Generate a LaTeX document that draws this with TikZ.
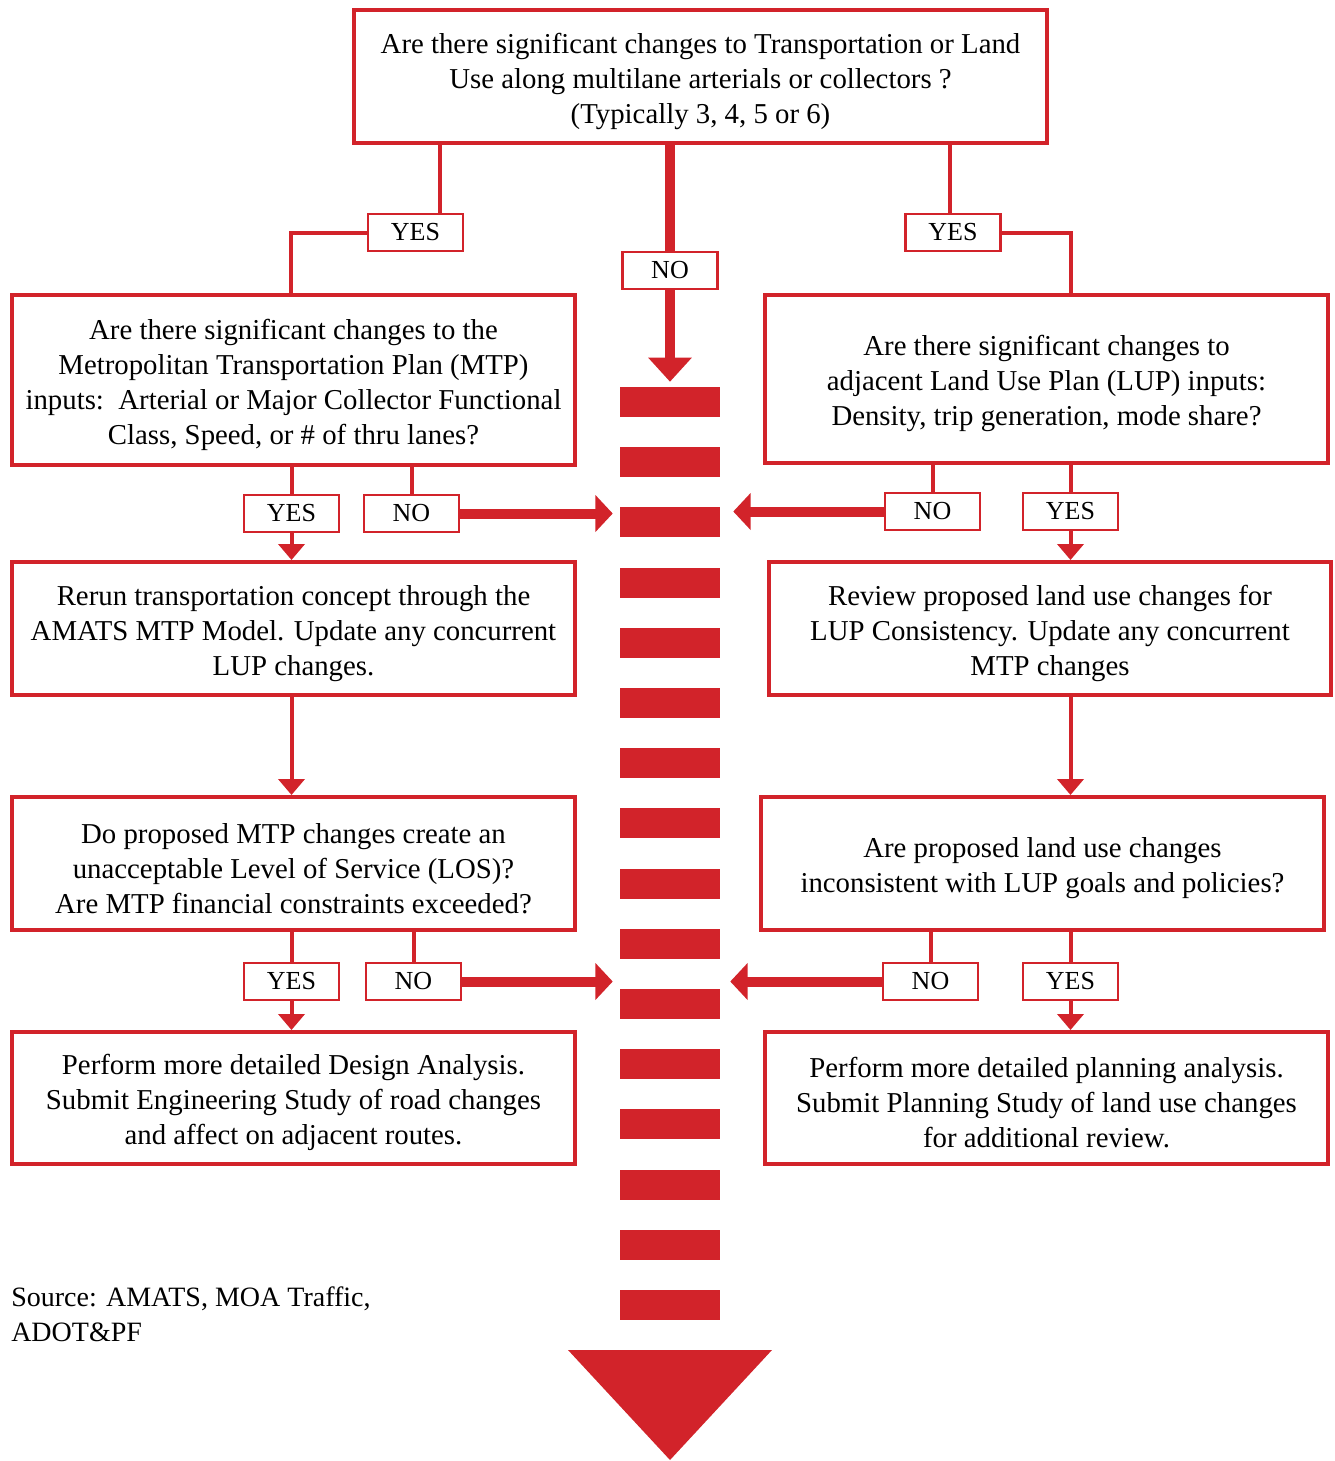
\documentclass[tikz,border=0pt]{standalone}
\usepackage{fontspec}
\setmainfont{Liberation Serif}
\usetikzlibrary{arrows.meta}
\definecolor{myred}{RGB}{210,35,42}
\newcommand\topstrut{\rule{0pt}{22.4pt}}
\begin{document}
\begin{tikzpicture}[x=0.75pt,y=-0.75pt,
  txt/.style={font={\fontsize{21.6}{26.25}\selectfont}},
  lbltxt/.style={font={\fontsize{19.5}{26.25}\selectfont}},
  box/.style={txt,draw=myred,line width=3pt,inner sep=0pt,align=center,fill=white},
  lbl/.style={lbltxt,draw=myred,line width=1.9pt,fill=white,minimum width=71pt,minimum height=27.5pt,inner sep=0pt},
  bar/.style={fill=myred,minimum width=75pt,minimum height=22.5pt,inner sep=0pt},
  thin/.style={draw=myred,line width=3pt},
  tarrow/.style={thin,-{Triangle[width=19.5pt,length=12pt]}},
  thick/.style={draw=myred,line width=7.5pt},
  Tarrow/.style={thick,-{Triangle[width=27pt,length=13pt]}},
  bigarrow/.style={thick,-{Triangle[width=31.5pt,length=18pt]}}]
\useasboundingbox (0,0) rectangle (1335,1461);

% dashed bar
\foreach \i in {1,...,16}{
  \node[bar] (d\i) at (670,{387+15+60.2*(\i-1)}) {};
}
\fill[myred] (568,1350) -- (772,1350) -- (670,1460) -- cycle;

% boxes
\node[box,minimum width=693*0.75pt,minimum height=133*0.75pt] (top) at (700.5,76.5)
  {\topstrut Are there significant changes to Transportation or Land\\Use along multilane arterials or collectors ?\\(Typically 3, 4, 5 or 6)};
\node[box,minimum width=563*0.75pt,minimum height=170*0.75pt] (L1) at (293.5,380)
  {\topstrut Are there significant changes to the\\Metropolitan Transportation Plan (MTP)\\inputs:\ \ Arterial or Major Collector Functional\\Class, Speed, or \# of thru lanes?};
\node[box,minimum width=563*0.75pt,minimum height=168*0.75pt] (R1) at (1046.5,379)
  {\topstrut Are there significant changes to\\adjacent Land Use Plan (LUP) inputs:\\Density, trip generation, mode share?};
\node[box,minimum width=563*0.75pt,minimum height=133*0.75pt] (L2) at (293.5,628.5)
  {\topstrut Rerun transportation concept through the\\AMATS MTP Model. Update any concurrent\\LUP changes.};
\node[box,minimum width=562*0.75pt,minimum height=133*0.75pt] (R2) at (1050,628.5)
  {\topstrut Review proposed land use changes for\\LUP Consistency. Update any concurrent\\MTP changes};
\node[box,minimum width=563*0.75pt,minimum height=133*0.75pt] (L3) at (293.5,863.5)
  {\topstrut Do proposed MTP changes create an\\unacceptable Level of Service (LOS)?\\Are MTP financial constraints exceeded?};
\node[box,minimum width=563*0.75pt,minimum height=133*0.75pt] (R3) at (1042.5,863.5)
  {\topstrut Are proposed land use changes\\inconsistent with LUP goals and policies?};
\node[box,minimum width=563*0.75pt,minimum height=132*0.75pt] (L4) at (293.5,1098)
  {\topstrut Perform more detailed Design Analysis.\\Submit Engineering Study of road changes\\and affect on adjacent routes.};
\node[box,minimum width=563*0.75pt,minimum height=132*0.75pt] (R4) at (1046.5,1098)
  {\topstrut Perform more detailed planning analysis.\\Submit Planning Study of land use changes\\for additional review.};

\node[txt,font={\fontsize{21}{26.25}\selectfont},anchor=west,align=left,inner sep=0pt] (src) at (11,1314)
  {Source: AMATS, MOA Traffic,\\ADOT\&PF};

% labels
\node[lbl] (yesTL) at (415.5,232.5) {YES};
\node[lbl] (noTop) at (670,270.5) {NO};
\node[lbl] (yesTR) at (953,232.5) {YES};
\node[lbl] (yesL1) at (291.5,513.5) {YES};
\node[lbl] (noL1) at (411.5,513.5) {NO};
\node[lbl] (noR1) at (932.5,511.5) {NO};
\node[lbl] (yesR1) at (1070.5,511.5) {YES};
\node[lbl] (yesL3) at (291.5,981.5) {YES};
\node[lbl] (noL3) at (413.5,981.5) {NO};
\node[lbl] (noR3) at (930.5,981.5) {NO};
\node[lbl] (yesR3) at (1070.5,981.5) {YES};

% connectors from top
\draw[thin] (top.south -| 440,0) -- (yesTL.north -| 440,0);
\draw[thin] (yesTL.west) -| (291,0 |- L1.north);
\draw[thin] (top.south -| 950,0) -- (yesTR.north -| 950,0);
\draw[thin] (yesTR.east) -| (1071,0 |- R1.north);
\draw[thick] (top.south -| noTop.north) -- (noTop.north);
\draw[bigarrow,shorten >=3.75pt] (noTop.south) -- (d1.north);

% row 1
\draw[thin] (L1.south -| yesL1.north) -- (yesL1.north);
\draw[thin] (L1.south -| noL1.north) -- (noL1.north);
\draw[tarrow] (yesL1.south) -- (L2.north -| yesL1.south);
\draw[Tarrow,shorten >=5.25pt] (noL1.east) -- (noL1.east -| d3.west);
\draw[thin] (R1.south -| noR1.north) -- (noR1.north);
\draw[thin] (R1.south -| yesR1.north) -- (yesR1.north);
\draw[tarrow] (yesR1.south) -- (R2.north -| yesR1.south);
\draw[Tarrow,shorten >=9.75pt] (noR1.west) -- (noR1.west -| d3.east);

% row 2
\draw[tarrow] (L2.south -| yesL1.south) -- (L3.north -| yesL1.south);
\draw[tarrow] (R2.south -| yesR1.south) -- (R3.north -| yesR1.south);

% row 3
\draw[thin] (L3.south -| yesL3.north) -- (yesL3.north);
\draw[thin] (L3.south -| noL3.north) -- (noL3.north);
\draw[tarrow] (yesL3.south) -- (L4.north -| yesL3.south);
\draw[Tarrow,shorten >=5.25pt] (noL3.east) -- (noL3.east -| d11.west);
\draw[thin] (R3.south -| noR3.north) -- (noR3.north);
\draw[thin] (R3.south -| yesR3.north) -- (yesR3.north);
\draw[tarrow] (yesR3.south) -- (R4.north -| yesR3.south);
\draw[Tarrow,shorten >=7.5pt] (noR3.west) -- (noR3.west -| d11.east);
\end{tikzpicture}
\end{document}
